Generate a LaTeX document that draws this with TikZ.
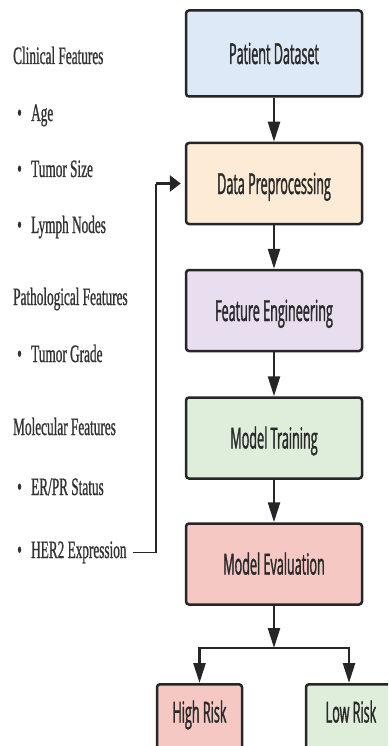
\documentclass[tikz,border=0pt]{standalone}
\usepackage{fontspec}
\newfontfamily\lserif[FakeStretch=0.53,FakeBold=0.8]{Liberation Serif}
\newfontfamily\bsans[FakeStretch=0.435,FakeBold=1.2]{Open Sans}
\usetikzlibrary{arrows.meta}
\definecolor{bordc}{HTML}{262626}
\definecolor{txtc}{HTML}{2A2A2A}
\definecolor{lefttc}{HTML}{333333}
\definecolor{cblue}{HTML}{DDE9F6}
\definecolor{cpeach}{HTML}{FDEBD5}
\definecolor{clav}{HTML}{E9DDF0}
\definecolor{cgreen}{HTML}{DFEEDB}
\definecolor{cpink}{HTML}{F6C8C4}
\begin{document}
\begin{tikzpicture}[x=1pt,y=-1pt,
  box/.style={draw=bordc, line width=2.5pt, rounded corners=3pt,
    minimum width=176pt, minimum height=81pt, inner sep=0pt,
    font=\bsans\fontsize{29}{31}\selectfont, text=txtc,
    text height=21pt, text depth=0pt},
  boxtext/.style={inner sep=0pt, font=\bsans\fontsize{29}{31}\selectfont,
    text=txtc, text height=21pt, text depth=0pt},
  hdr/.style={anchor=base west, inner sep=0pt,
    font=\lserif\fontsize{25}{27}\selectfont, text=lefttc},
  itm/.style={hdr},
  arr/.style={line width=2.5pt, draw=bordc, -{Triangle[length=20pt,width=12pt]}},
  hline/.style={line width=2.5pt, draw=bordc, line cap=rect},
  fbline/.style={line width=1.6pt, draw=bordc},
  fbarr/.style={line width=3.5pt, draw=bordc, -{Triangle[length=11pt,width=16pt]}}
]
\useasboundingbox (0,0) rectangle (388,746);
\clip (0,0) rectangle (388,746);
\fill[white] (0,0) rectangle (388,746);

% main flow
\node[box, fill=cblue, minimum height=86pt] (pd) at (274,53.5) {Patient Dataset};
\node[box, fill=cpeach] (dp) at (274,183.5) {Data Preprocessing};
\node[box, fill=clav] (fe) at (274,310.5) {Feature Engineering};
\node[box, fill=cgreen] (mt) at (274,438) {Model Training};
\node[box, fill=cpink] (me) at (274,564) {Model Evaluation};

\node[box, fill=cpink, minimum width=85pt, minimum height=110pt, anchor=north] (hr) at (199.5,683) {};
\node[boxtext] (hrt) at (199.5,712) {High Risk};
\node[box, fill=cgreen, minimum width=90pt, minimum height=110pt, anchor=north] (lr) at (351,683) {};
\node[boxtext] (lrt) at (351,712) {Low Risk};

\draw[arr] (pd.south) -- (dp.north);
\draw[arr] (dp.south) -- (fe.north);
\draw[arr] (fe.south) -- (mt.north);
\draw[arr] (mt.south) -- (me.north);

\coordinate (bj) at (274,648);
\coordinate (bl) at (199.5,648);
\coordinate (br) at (349,648);
\draw[arr] (me.south) -- (bj);
\draw[hline] (bl) -- (br);
\draw[arr] (bl) -- (hr.north);
\draw[arr] (br) -- (br |- lr.north);

% left feature list
\node[hdr] (clin) at (13,64) {Clinical Features};
\node[itm] (age) at (17,121) {\makebox[14pt][l]{•}Age};
\node[itm] (tsize) at (17,177) {\makebox[14pt][l]{•}Tumor Size};
\node[itm] (lymph) at (17,233) {\makebox[14pt][l]{•}Lymph Nodes};
\node[hdr] (path) at (13,305) {Pathological Features};
\node[itm] (grade) at (17,362) {\makebox[14pt][l]{•}Tumor Grade};
\node[hdr] (mol) at (13,435) {Molecular Features};
\node[itm] (erpr) at (17,495) {\makebox[14pt][l]{•}ER/PR Status};
\node[itm] (her2) at (17,558) {\makebox[14pt][l]{•}HER2 Expression};

% feedback connector
\path (dp.west) ++(-29,0) coordinate (fbc);
\draw[fbline] ([xshift=6pt]her2.east) -| (fbc);
\draw[fbarr] (fbc) -- ([xshift=-4pt]dp.west);
\end{tikzpicture}
\end{document}
